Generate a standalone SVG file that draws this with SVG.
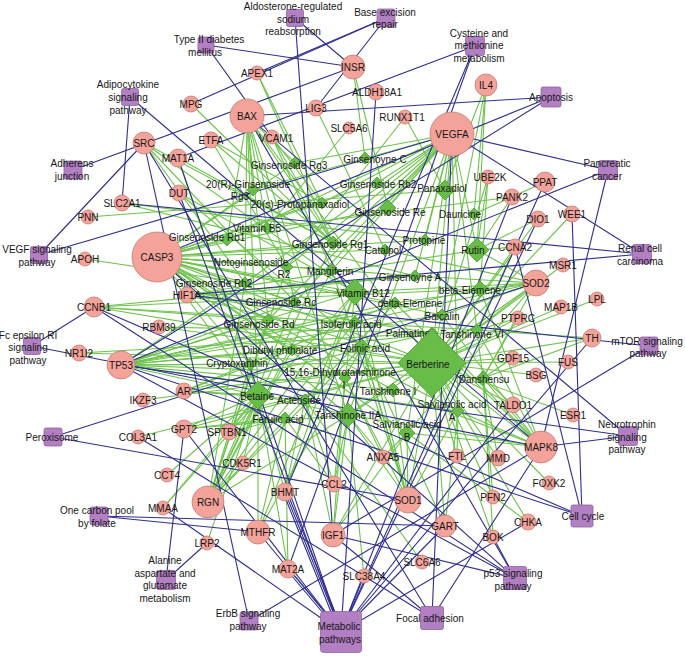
<svg xmlns="http://www.w3.org/2000/svg" width="685" height="656" viewBox="0 0 685 656">
<style>
.g path{stroke:#6dc24c;stroke-width:1.1;fill:none}
.b path{stroke:#2e2e8e;stroke-width:1.1;fill:none}
.pw rect{fill:#b27fc3;stroke:#8f62a2;stroke-width:.8}
.gn circle{fill:#f4a39b;stroke:#c07c74;stroke-width:.8}
.cp polygon{fill:#67bd48;stroke:#4f9a36;stroke-width:.8}
text{font-family:"Liberation Sans",Arial,sans-serif;font-size:10px;fill:#161616;text-anchor:middle}
</style>
<rect width="685" height="656" fill="#fff"/>
<g id="connectors">
<g class="g">
<path d="M257 73L333 243"/><path d="M257 73L322 203"/>
<path d="M353 67L388 208"/><path d="M353 67L365 158"/>
<path d="M191 104L333 243"/>
<path d="M247 116L295 163"/><path d="M247 116L253 190"/><path d="M247 116L227 240"/><path d="M247 116L267 228"/><path d="M247 116L245 283"/><path d="M247 116L295 302"/><path d="M247 116L268 320"/><path d="M247 116L432 363"/><path d="M247 116L348 415"/><path d="M247 116L258 395"/><path d="M247 116L333 243"/>
<path d="M316 108L385 250"/>
<path d="M405 117L287 267"/><path d="M405 117L445 190"/>
<path d="M349 128L267 228"/>
<path d="M272 137L322 203"/><path d="M272 137L333 243"/><path d="M272 137L332 270"/>
<path d="M211 140L322 203"/><path d="M211 140L333 243"/><path d="M211 140L287 267"/>
<path d="M144 143L333 243"/><path d="M144 143L245 283"/><path d="M144 143L295 302"/><path d="M144 143L355 292"/>
<path d="M178 158L258 395"/><path d="M178 158L333 243"/>
<path d="M179 193L355 292"/><path d="M179 193L362 347"/>
<path d="M122 203L425 240"/><path d="M122 203L415 276"/>
<path d="M88 217L445 190"/>
<path d="M486 85L477 250"/><path d="M486 85L445 190"/><path d="M486 85L474 214"/><path d="M486 85L432 363"/>
<path d="M452 134L295 163"/><path d="M452 134L253 190"/><path d="M452 134L377 183"/><path d="M452 134L322 203"/><path d="M452 134L388 208"/><path d="M452 134L227 240"/><path d="M452 134L333 243"/><path d="M452 134L287 267"/><path d="M452 134L245 283"/><path d="M452 134L295 302"/><path d="M452 134L268 320"/><path d="M452 134L477 250"/><path d="M452 134L432 363"/><path d="M452 134L483 378"/><path d="M452 134L348 415"/><path d="M452 134L458 411"/><path d="M452 134L407 433"/><path d="M452 134L425 240"/><path d="M452 134L415 276"/><path d="M452 134L332 270"/>
<path d="M488 177L477 250"/><path d="M488 177L480 289"/><path d="M488 177L432 363"/>
<path d="M545 182L474 214"/>
<path d="M512 197L267 228"/><path d="M512 197L477 250"/>
<path d="M538 219L477 250"/><path d="M538 219L432 363"/>
<path d="M572 214L432 363"/>
<path d="M515 247L477 250"/><path d="M515 247L477 330"/><path d="M515 247L432 363"/>
<path d="M563 265L432 363"/>
<path d="M536 283L477 250"/><path d="M536 283L480 289"/><path d="M536 283L355 292"/><path d="M536 283L442 315"/><path d="M536 283L432 363"/><path d="M536 283L483 378"/><path d="M536 283L348 415"/><path d="M536 283L407 433"/><path d="M536 283L395 303"/><path d="M536 283L415 276"/><path d="M536 283L385 250"/><path d="M536 283L355 322"/>
<path d="M597 299L432 363"/>
<path d="M561 307L432 363"/>
<path d="M518 318L432 363"/><path d="M518 318L483 378"/><path d="M518 318L477 330"/>
<path d="M157 257L295 163"/><path d="M157 257L253 190"/><path d="M157 257L377 183"/><path d="M157 257L322 203"/><path d="M157 257L388 208"/><path d="M157 257L267 228"/><path d="M157 257L227 240"/><path d="M157 257L333 243"/><path d="M157 257L385 250"/><path d="M157 257L425 240"/><path d="M157 257L287 267"/><path d="M157 257L332 270"/><path d="M157 257L415 276"/><path d="M157 257L245 283"/><path d="M157 257L355 292"/><path d="M157 257L295 302"/><path d="M157 257L268 320"/><path d="M157 257L355 322"/><path d="M157 257L432 363"/><path d="M157 257L345 378"/><path d="M157 257L393 390"/><path d="M157 257L258 395"/><path d="M157 257L348 415"/><path d="M157 257L458 411"/><path d="M157 257L407 433"/><path d="M157 257L395 303"/><path d="M157 257L442 315"/><path d="M157 257L292 350"/><path d="M157 257L250 364"/>
<path d="M85 259L245 283"/>
<path d="M187 295L477 250"/><path d="M187 295L415 276"/><path d="M187 295L432 363"/><path d="M187 295L355 292"/><path d="M187 295L432 333"/>
<path d="M94 307L432 363"/><path d="M94 307L415 276"/><path d="M94 307L477 330"/><path d="M94 307L480 289"/><path d="M94 307L268 320"/>
<path d="M159 327L432 363"/><path d="M159 327L432 333"/>
<path d="M79 353L432 363"/><path d="M79 353L432 333"/>
<path d="M121 365L432 363"/><path d="M121 365L245 283"/><path d="M121 365L268 320"/><path d="M121 365L295 302"/><path d="M121 365L355 292"/><path d="M121 365L292 350"/><path d="M121 365L348 415"/><path d="M121 365L393 390"/><path d="M121 365L395 303"/><path d="M121 365L355 322"/><path d="M121 365L483 378"/><path d="M121 365L458 411"/><path d="M121 365L442 315"/><path d="M121 365L477 330"/><path d="M121 365L480 289"/><path d="M121 365L250 364"/>
<path d="M184 391L432 363"/><path d="M184 391L258 395"/><path d="M184 391L292 350"/><path d="M184 391L432 333"/><path d="M184 391L395 303"/><path d="M184 391L305 400"/>
<path d="M143 400L432 363"/>
<path d="M184 429L258 395"/><path d="M184 429L285 418"/><path d="M184 429L432 363"/><path d="M184 429L348 415"/>
<path d="M138 437L432 363"/>
<path d="M167 475L258 395"/>
<path d="M229 432L258 395"/><path d="M229 432L285 418"/>
<path d="M243 463L258 395"/>
<path d="M208 502L258 395"/><path d="M208 502L250 364"/><path d="M208 502L292 350"/><path d="M208 502L295 302"/><path d="M208 502L268 320"/><path d="M208 502L245 283"/><path d="M208 502L355 292"/><path d="M208 502L287 267"/><path d="M208 502L333 243"/><path d="M208 502L332 270"/><path d="M208 502L355 322"/><path d="M208 502L395 303"/><path d="M208 502L432 363"/><path d="M208 502L362 347"/>
<path d="M163 508L355 292"/><path d="M163 508L258 395"/>
<path d="M207 543L258 395"/>
<path d="M285 492L258 395"/><path d="M285 492L305 400"/><path d="M285 492L355 292"/>
<path d="M334 484L305 400"/><path d="M334 484L285 418"/><path d="M334 484L348 415"/><path d="M334 484L355 292"/>
<path d="M383 457L407 433"/><path d="M383 457L348 415"/><path d="M383 457L345 378"/>
<path d="M408 500L432 363"/><path d="M408 500L393 390"/><path d="M408 500L348 415"/><path d="M408 500L407 433"/><path d="M408 500L458 411"/><path d="M408 500L355 292"/><path d="M408 500L345 378"/><path d="M408 500L332 270"/><path d="M408 500L362 347"/><path d="M408 500L355 322"/>
<path d="M457 456L432 363"/><path d="M457 456L458 411"/>
<path d="M258 532L362 347"/><path d="M258 532L355 292"/><path d="M258 532L258 395"/><path d="M258 532L285 418"/>
<path d="M333 535L432 363"/><path d="M333 535L348 415"/><path d="M333 535L345 378"/><path d="M333 535L305 400"/><path d="M333 535L407 433"/>
<path d="M445 526L362 347"/><path d="M445 526L432 363"/><path d="M445 526L458 411"/>
<path d="M422 562L305 400"/>
<path d="M288 569L258 395"/><path d="M288 569L285 418"/>
<path d="M364 576L348 415"/>
<path d="M498 458L432 363"/><path d="M498 458L483 378"/>
<path d="M541 447L432 363"/><path d="M541 447L483 378"/><path d="M541 447L458 411"/><path d="M541 447L393 390"/><path d="M541 447L432 333"/><path d="M541 447L348 415"/><path d="M541 447L407 433"/><path d="M541 447L442 315"/><path d="M541 447L395 303"/><path d="M541 447L477 330"/><path d="M541 447L480 289"/>
<path d="M549 483L432 363"/>
<path d="M493 497L483 378"/><path d="M493 497L432 363"/>
<path d="M528 522L407 433"/><path d="M528 522L432 363"/>
<path d="M493 537L432 363"/><path d="M493 537L483 378"/>
<path d="M513 405L432 363"/><path d="M513 405L483 378"/>
<path d="M573 415L432 363"/>
<path d="M536 375L432 363"/>
<path d="M513 358L432 363"/><path d="M513 358L483 378"/>
<path d="M568 362L432 363"/>
<path d="M592 338L432 363"/><path d="M592 338L477 330"/><path d="M592 338L483 378"/>
</g>
<g class="b">
<path d="M295 18L353 67"/><path d="M295 18L333 535"/>
<path d="M386 18L316 108"/><path d="M386 18L257 73"/><path d="M386 18L191 104"/>
<path d="M206 45L353 67"/><path d="M206 45L272 137"/>
<path d="M475 46L178 158"/><path d="M475 46L288 569"/><path d="M475 46L285 492"/>
<path d="M551 97L247 116"/><path d="M551 97L157 257"/><path d="M551 97L121 365"/>
<path d="M130 97L122 203"/><path d="M130 97L541 447"/>
<path d="M73 170L353 67"/>
<path d="M39 255L452 134"/><path d="M39 255L144 143"/>
<path d="M608 170L452 134"/><path d="M608 170L541 447"/><path d="M608 170L121 365"/>
<path d="M642 254L452 134"/><path d="M642 254L187 295"/><path d="M642 254L122 203"/>
<path d="M32 346L541 447"/><path d="M32 346L94 307"/>
<path d="M649 346L187 295"/><path d="M649 346L333 535"/>
<path d="M628 436L541 447"/><path d="M628 436L121 365"/><path d="M628 436L247 116"/>
<path d="M53 437L536 283"/><path d="M53 437L408 500"/>
<path d="M99 516L445 526"/><path d="M99 516L258 532"/>
<path d="M582 516L572 214"/><path d="M582 516L94 307"/><path d="M582 516L121 365"/><path d="M582 516L515 247"/>
<path d="M166 580L184 429"/><path d="M166 580L207 543"/>
<path d="M515 578L121 365"/><path d="M515 578L157 257"/><path d="M515 578L94 307"/><path d="M515 578L333 535"/><path d="M515 578L247 116"/><path d="M515 578L493 537"/>
<path d="M249 621L144 143"/><path d="M249 621L541 447"/>
<path d="M339 632L283 492"/><path d="M341 632L285 492"/><path d="M343 632L287 492"/>
<path d="M339 632L286 569"/><path d="M342 632L289 569"/>
<path d="M341 632L178 158"/><path d="M341 632L258 532"/><path d="M341 632L445 526"/><path d="M341 632L545 182"/><path d="M341 632L512 197"/><path d="M341 632L179 193"/><path d="M341 632L376 92"/><path d="M341 632L184 429"/><path d="M341 632L528 522"/><path d="M341 632L513 405"/><path d="M341 632L538 219"/><path d="M341 632L592 338"/><path d="M341 632L364 576"/><path d="M341 632L163 508"/>
<path d="M432 618L144 143"/><path d="M432 618L452 134"/><path d="M432 618L333 535"/><path d="M432 618L138 437"/><path d="M432 618L541 447"/>
</g>
</g>
<g id="pathways" class="pw">
<g id="p-aldosterone"><rect x="286.5" y="9.5" width="17" height="17" rx="2"/><text x="293" y="10">Aldosterone-regulated</text><text x="293" y="22.5">sodium</text><text x="293" y="35">reabsorption</text></g>
<g id="p-ber"><rect x="377" y="9" width="18" height="18" rx="2"/><text x="385" y="15.5">Base excision</text><text x="385" y="28">repair</text></g>
<g id="p-t2d"><rect x="198" y="37" width="16" height="16" rx="2"/><text x="209" y="43">Type II diabetes</text><text x="205" y="55.5">mellitus</text></g>
<g id="p-cys"><rect x="465.5" y="36.5" width="19" height="19" rx="2"/><text x="479" y="36.5">Cysteine and</text><text x="479" y="49">methionine</text><text x="479" y="61.5">metabolism</text></g>
<g id="p-adipo"><rect x="121.5" y="88.5" width="17" height="17" rx="2"/><text x="128" y="88">Adipocytokine</text><text x="128" y="101">signaling</text><text x="128" y="114">pathway</text></g>
<g id="p-apop"><rect x="541" y="87" width="20" height="20" rx="2"/><text x="551" y="101">Apoptosis</text></g>
<g id="p-adherens"><rect x="64" y="161" width="18" height="18" rx="2"/><text x="72" y="167">Adherens</text><text x="72" y="180">junction</text></g>
<g id="p-panc"><rect x="598.5" y="160.5" width="19" height="19" rx="2"/><text x="607" y="167">Pancreatic</text><text x="607" y="180">cancer</text></g>
<g id="p-vegf"><rect x="30.5" y="246.5" width="17" height="17" rx="2"/><text x="37" y="253">VEGF signaling</text><text x="37" y="266">pathway</text></g>
<g id="p-renal"><rect x="632.5" y="244.5" width="19" height="19" rx="2"/><text x="640" y="252">Renal cell</text><text x="640" y="265">carcinoma</text></g>
<g id="p-fc"><rect x="23.5" y="337.5" width="17" height="17" rx="2"/><text x="28" y="339">Fc epsilon RI</text><text x="28" y="351">signaling</text><text x="28" y="364">pathway</text></g>
<g id="p-mtor"><rect x="640" y="337" width="18" height="18" rx="2"/><text x="647" y="345">mTOR signaling</text><text x="648" y="357">pathway</text></g>
<g id="p-perox"><rect x="44" y="428" width="18" height="18" rx="2"/><text x="52" y="441">Peroxisome</text></g>
<g id="p-neuro"><rect x="618.5" y="426.5" width="19" height="19" rx="2"/><text x="627" y="428">Neurotrophin</text><text x="627" y="440.5">signaling</text><text x="627" y="453">pathway</text></g>
<g id="p-onec"><rect x="90" y="507" width="18" height="18" rx="2"/><text x="97" y="514">One carbon pool</text><text x="97" y="526.5">by folate</text></g>
<g id="p-cell"><rect x="571" y="505" width="22" height="22" rx="2"/><text x="583" y="520">Cell cycle</text></g>
<g id="p-ala"><rect x="156.5" y="570.5" width="19" height="19" rx="2"/><text x="165" y="564">Alanine</text><text x="165" y="576.5">aspartate and</text><text x="165" y="589">glutamate</text><text x="165" y="601.5">metabolism</text></g>
<g id="p-p53"><rect x="503.5" y="566.5" width="23" height="23" rx="2"/><text x="513" y="577">p53 signaling</text><text x="513" y="590">pathway</text></g>
<g id="p-erbb"><rect x="240" y="612" width="18" height="18" rx="2"/><text x="248" y="617">ErbB signaling</text><text x="248" y="629.5">pathway</text></g>
<g id="p-metab"><rect x="320.5" y="611.5" width="41" height="41" rx="3"/><text x="339" y="630">Metabolic</text><text x="340" y="642.5">pathways</text></g>
<g id="p-focal"><rect x="420.5" y="606.5" width="23" height="23" rx="2"/><text x="430" y="622">Focal adhesion</text></g>
</g>
<g id="genes" class="gn">
<g id="n-APEX1"><circle cx="257" cy="73" r="7"/><text x="257" y="76.5">APEX1</text></g>
<g id="n-INSR"><circle cx="353" cy="67" r="12"/><text x="353" y="70.5">INSR</text></g>
<g id="n-IL4"><circle cx="486" cy="85" r="11"/><text x="486" y="88.5">IL4</text></g>
<g id="n-MPG"><circle cx="191" cy="104" r="8"/><text x="191" y="107.5">MPG</text></g>
<g id="n-BAX"><circle cx="247" cy="116" r="17"/><text x="247" y="119.5">BAX</text></g>
<g id="n-LIG3"><circle cx="316" cy="108" r="8"/><text x="316" y="111.5">LIG3</text></g>
<g id="n-ALDH18A1"><circle cx="376" cy="92" r="8"/><text x="377" y="95.5">ALDH18A1</text></g>
<g id="n-RUNX1T1"><circle cx="405" cy="117" r="7"/><text x="402" y="120.5">RUNX1T1</text></g>
<g id="n-SLC5A6"><circle cx="349" cy="128" r="6"/><text x="349" y="131.5">SLC5A6</text></g>
<g id="n-VEGFA"><circle cx="452" cy="134" r="22"/><text x="452" y="137.5">VEGFA</text></g>
<g id="n-VCAM1"><circle cx="272" cy="137" r="7"/><text x="276" y="142">VCAM1</text></g>
<g id="n-ETFA"><circle cx="211" cy="140" r="8"/><text x="211" y="143.5">ETFA</text></g>
<g id="n-SRC"><circle cx="144" cy="143" r="11"/><text x="144" y="146.5">SRC</text></g>
<g id="n-MAT1A"><circle cx="178" cy="158" r="9"/><text x="178" y="161.5">MAT1A</text></g>
<g id="n-UBE2K"><circle cx="488" cy="177" r="7"/><text x="490" y="180.5">UBE2K</text></g>
<g id="n-PPAT"><circle cx="545" cy="182" r="10"/><text x="545" y="185.5">PPAT</text></g>
<g id="n-PANK2"><circle cx="512" cy="197" r="8"/><text x="512" y="200.5">PANK2</text></g>
<g id="n-DIO1"><circle cx="538" cy="219" r="8"/><text x="538" y="222.5">DIO1</text></g>
<g id="n-WEE1"><circle cx="572" cy="214" r="8"/><text x="572" y="217.5">WEE1</text></g>
<g id="n-CCNA2"><circle cx="515" cy="247" r="8"/><text x="515" y="250.5">CCNA2</text></g>
<g id="n-MSR1"><circle cx="563" cy="265" r="7"/><text x="563" y="268.5">MSR1</text></g>
<g id="n-SOD2"><circle cx="536" cy="283" r="13"/><text x="536" y="286.5">SOD2</text></g>
<g id="n-LPL"><circle cx="597" cy="299" r="7"/><text x="597" y="302.5">LPL</text></g>
<g id="n-MAP1B"><circle cx="561" cy="307" r="7"/><text x="561" y="310.5">MAP1B</text></g>
<g id="n-PTPRC"><circle cx="518" cy="318" r="7"/><text x="518" y="321.5">PTPRC</text></g>
<g id="n-DUT"><circle cx="179" cy="193" r="8"/><text x="179" y="196.5">DUT</text></g>
<g id="n-SLC2A1"><circle cx="122" cy="203" r="8"/><text x="122" y="206.5">SLC2A1</text></g>
<g id="n-PNN"><circle cx="88" cy="217" r="7"/><text x="88" y="220.5">PNN</text></g>
<g id="n-CASP3"><circle cx="157" cy="257" r="25"/><text x="157" y="260.5">CASP3</text></g>
<g id="n-APOH"><circle cx="85" cy="259" r="7"/><text x="85" y="262.5">APOH</text></g>
<g id="n-HIF1A"><circle cx="187" cy="295" r="8"/><text x="187" y="298.5">HIF1A</text></g>
<g id="n-CCNB1"><circle cx="94" cy="307" r="10"/><text x="94" y="310.5">CCNB1</text></g>
<g id="n-RBM39"><circle cx="159" cy="327" r="7"/><text x="159" y="330.5">RBM39</text></g>
<g id="n-NR1I2"><circle cx="79" cy="353" r="8"/><text x="79" y="356.5">NR1I2</text></g>
<g id="n-TP53"><circle cx="121" cy="365" r="14"/><text x="121" y="368.5">TP53</text></g>
<g id="n-AR"><circle cx="184" cy="391" r="8"/><text x="184" y="394.5">AR</text></g>
<g id="n-IKZF3"><circle cx="143" cy="400" r="7"/><text x="143" y="403.5">IKZF3</text></g>
<g id="n-GPT2"><circle cx="184" cy="429" r="9"/><text x="184" y="432.5">GPT2</text></g>
<g id="n-COL3A1"><circle cx="138" cy="437" r="7"/><text x="138" y="440.5">COL3A1</text></g>
<g id="n-CCT4"><circle cx="167" cy="475" r="7"/><text x="167" y="478.5">CCT4</text></g>
<g id="n-SPTBN1"><circle cx="229" cy="432" r="8"/><text x="227" y="435.5">SPTBN1</text></g>
<g id="n-CDK5R1"><circle cx="243" cy="463" r="7"/><text x="242" y="466.5">CDK5R1</text></g>
<g id="n-RGN"><circle cx="208" cy="502" r="16"/><text x="208" y="505.5">RGN</text></g>
<g id="n-MMAA"><circle cx="163" cy="508" r="7"/><text x="163" y="511.5">MMAA</text></g>
<g id="n-LRP2"><circle cx="207" cy="543" r="7"/><text x="207" y="546.5">LRP2</text></g>
<g id="n-BHMT"><circle cx="285" cy="492" r="9"/><text x="285" y="495.5">BHMT</text></g>
<g id="n-CCL2"><circle cx="334" cy="484" r="8"/><text x="334" y="487.5">CCL2</text></g>
<g id="n-ANXA5"><circle cx="383" cy="457" r="7"/><text x="383" y="460.5">ANXA5</text></g>
<g id="n-SOD1"><circle cx="408" cy="500" r="13"/><text x="408" y="503.5">SOD1</text></g>
<g id="n-FTL"><circle cx="457" cy="456" r="7"/><text x="457" y="459.5">FTL</text></g>
<g id="n-MTHFR"><circle cx="258" cy="532" r="12"/><text x="258" y="535.5">MTHFR</text></g>
<g id="n-IGF1"><circle cx="333" cy="535" r="12"/><text x="333" y="538.5">IGF1</text></g>
<g id="n-GART"><circle cx="445" cy="526" r="11"/><text x="445" y="529.5">GART</text></g>
<g id="n-SLC6A6"><circle cx="422" cy="562" r="7"/><text x="422" y="565.5">SLC6A6</text></g>
<g id="n-MAT2A"><circle cx="288" cy="569" r="9"/><text x="288" y="572.5">MAT2A</text></g>
<g id="n-SLC38A4"><circle cx="364" cy="576" r="7"/><text x="364" y="579.5">SLC38A4</text></g>
<g id="n-MMD"><circle cx="498" cy="458" r="8"/><text x="498" y="461.5">MMD</text></g>
<g id="n-MAPK8"><circle cx="541" cy="447" r="16"/><text x="541" y="450.5">MAPK8</text></g>
<g id="n-FOXK2"><circle cx="549" cy="483" r="7"/><text x="549" y="486.5">FOXK2</text></g>
<g id="n-PFN2"><circle cx="493" cy="497" r="7"/><text x="493" y="500.5">PFN2</text></g>
<g id="n-CHKA"><circle cx="528" cy="522" r="8"/><text x="528" y="525.5">CHKA</text></g>
<g id="n-BOK"><circle cx="493" cy="537" r="7"/><text x="493" y="540.5">BOK</text></g>
<g id="n-TALDO1"><circle cx="513" cy="405" r="8"/><text x="513" y="408.5">TALDO1</text></g>
<g id="n-ESR1"><circle cx="573" cy="415" r="7"/><text x="573" y="418.5">ESR1</text></g>
<g id="n-BSG"><circle cx="536" cy="375" r="7"/><text x="536" y="378.5">BSG</text></g>
<g id="n-GDF15"><circle cx="513" cy="358" r="7"/><text x="513" y="361.5">GDF15</text></g>
<g id="n-FUS"><circle cx="568" cy="362" r="7"/><text x="568" y="365.5">FUS</text></g>
<g id="n-TH"><circle cx="592" cy="338" r="9"/><text x="592" y="341.5">TH</text></g>
</g>
<g id="compounds" class="cp">
<g id="c-Rg3"><polygon points="295,157 301,163 295,169 289,163"/><text x="289" y="169">Ginsenoside Rg3</text></g>
<g id="c-GynC"><polygon points="365,152 371,158 365,164 359,158"/><text x="375" y="163">Ginsenoyne C</text></g>
<g id="c-RRg3"><polygon points="253,184 259,190 253,196 247,190"/><text x="248" y="188">20(R)-Ginsenoside</text><text x="240" y="200">Rg3</text></g>
<g id="c-Rb2"><polygon points="377,177 383,183 377,189 371,183"/><text x="378" y="188">Ginsenoside Rb2</text></g>
<g id="c-Panax"><polygon points="445,180 455,190 445,200 435,190"/><text x="442" y="192">Panaxadiol</text></g>
<g id="c-PPD"><polygon points="322,197 328,203 322,209 316,203"/><text x="300" y="208">20(s)-Protopanaxadiol</text></g>
<g id="c-Re"><polygon points="388,200 396,208 388,216 380,208"/><text x="390" y="216">Ginsenoside Re</text></g>
<g id="c-Dauricine"><polygon points="474,208 480,214 474,220 468,214"/><text x="460" y="218">Dauricine</text></g>
<g id="c-VB5"><polygon points="267,222 273,228 267,234 261,228"/><text x="257" y="231.5">Vitamin B5</text></g>
<g id="c-Rb1"><polygon points="227,234 233,240 227,246 221,240"/><text x="207" y="241">Ginsenoside Rb1</text></g>
<g id="c-Rg1"><polygon points="333,236 340,243 333,250 326,243"/><text x="330" y="248">Ginsenoside Rg1</text></g>
<g id="c-Catalpol"><polygon points="385,244 391,250 385,256 379,250"/><text x="383" y="254">Catalpol</text></g>
<g id="c-Protopine"><polygon points="425,234 431,240 425,246 419,240"/><text x="424" y="243.5">Protopine</text></g>
<g id="c-Rutin"><polygon points="477,238 489,250 477,262 465,250"/><text x="473" y="253.5">Rutin</text></g>
<g id="c-NotoR2"><polygon points="287,261 293,267 287,273 281,267"/><text x="251" y="265.5">Notoginsenoside</text><text x="284" y="278">R2</text></g>
<g id="c-Mangiferin"><polygon points="332,264 338,270 332,276 326,270"/><text x="330" y="274.5">Mangiferin</text></g>
<g id="c-GynA"><polygon points="415,270 421,276 415,282 409,276"/><text x="410" y="280.5">Ginsenoyne A</text></g>
<g id="c-bElem"><polygon points="480,281 488,289 480,297 472,289"/><text x="470" y="294">beta-Elemene</text></g>
<g id="c-Rh2"><polygon points="245,277 251,283 245,289 239,283"/><text x="214" y="286.5">Ginsenoside Rh2</text></g>
<g id="c-VB12"><polygon points="355,279 368,292 355,305 342,292"/><text x="363" y="297">Vitamin B12</text></g>
<g id="c-dElem"><polygon points="395,297 401,303 395,309 389,303"/><text x="410" y="307">delta-Elemene</text></g>
<g id="c-Rc"><polygon points="295,296 301,302 295,308 289,302"/><text x="281" y="306">Ginsenoside Rc</text></g>
<g id="c-Baicalin"><polygon points="442,309 448,315 442,321 436,315"/><text x="442" y="320">Baicalin</text></g>
<g id="c-Rd"><polygon points="268,314 274,320 268,326 262,320"/><text x="259" y="327.5">Ginsenoside Rd</text></g>
<g id="c-Isoferulic"><polygon points="355,316 361,322 355,328 349,322"/><text x="351" y="328">Isoferulic acid</text></g>
<g id="c-Palmatine"><polygon points="432,327 438,333 432,339 426,333"/><text x="408" y="336.5">Palmatine</text></g>
<g id="c-TanVI"><polygon points="477,324 483,330 477,336 471,330"/><text x="472" y="337.5">Tanshinone VI</text></g>
<g id="c-Berberine"><polygon points="432,329 466,363 432,397 398,363"/><text x="428" y="367.5">Berberine</text></g>
<g id="c-DBP"><polygon points="292,344 298,350 292,356 286,350"/><text x="280" y="353.5">Dibutyl phthalate</text></g>
<g id="c-Folinic"><polygon points="362,339 370,347 362,355 354,347"/><text x="365" y="351.5">Folinic acid</text></g>
<g id="c-Crypto"><polygon points="250,358 256,364 250,370 244,364"/><text x="237" y="366.5">Cryptoxanthin</text></g>
<g id="c-DHT"><polygon points="345,372 351,378 345,384 339,378"/><text x="340" y="375.5">15,16-Dihydrotanshinone</text><text x="344" y="388.5">I</text></g>
<g id="c-TanI"><polygon points="393,383 400,390 393,397 386,390"/><text x="388" y="394.5">Tanshinone I</text></g>
<g id="c-Danshensu"><polygon points="483,371 490,378 483,385 476,378"/><text x="484" y="382.5">Danshensu</text></g>
<g id="c-Betaine"><polygon points="258,381 272,395 258,409 244,395"/><text x="257" y="399.5">Betaine</text></g>
<g id="c-Acteoside"><polygon points="305,394 311,400 305,406 299,400"/><text x="299" y="403.5">Acteoside</text></g>
<g id="c-TanIIA"><polygon points="348,403 360,415 348,427 336,415"/><text x="348" y="418.5">Tanshinone IIA</text></g>
<g id="c-SalA"><polygon points="458,405 464,411 458,417 452,411"/><text x="452" y="408">Salvianolic acid</text><text x="452" y="421">A</text></g>
<g id="c-Ferulic"><polygon points="285,412 291,418 285,424 279,418"/><text x="278" y="423">Ferulic acid</text></g>
<g id="c-SalB"><polygon points="407,425 415,433 407,441 399,433"/><text x="407" y="428">Salvianolic acid</text><text x="407" y="440.5">B</text></g>
</g>
</svg>
